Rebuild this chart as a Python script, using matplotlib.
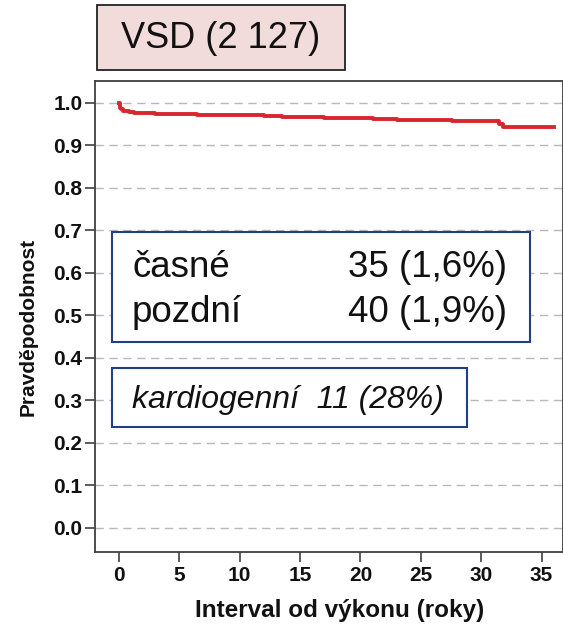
import matplotlib
matplotlib.use("Agg")
import matplotlib.pyplot as plt
from matplotlib.patches import Rectangle

# ---- data ----
times = [0, 0.05, 0.1, 0.2, 0.35, 0.5, 0.8, 1.2, 2, 3, 4, 5, 6.5, 8, 10, 12,
         13.5, 15, 17, 19, 21, 23, 25, 27.6, 29, 31.5, 31.8, 36]
surv = [1.0, 0.993, 0.988, 0.985, 0.982, 0.980, 0.978, 0.977, 0.976, 0.975,
        0.974, 0.973, 0.972, 0.972, 0.971, 0.970, 0.967, 0.966, 0.965, 0.964,
        0.963, 0.961, 0.960, 0.958, 0.957, 0.950, 0.944, 0.944]
xticks = [0, 5, 10, 15, 20, 25, 30, 35]
yticks = [0.0, 0.1, 0.2, 0.3, 0.4, 0.5, 0.6, 0.7, 0.8, 0.9, 1.0]
title_text = "VSD (2 127)"
box_labels = ["časné", "pozdní"]
box_values = ["35 (1,6%)", "40 (1,9%)"]
box2_text = "kardiogenní  11 (28%)"

plt.rcParams['font.family'] = ['Liberation Sans', 'DejaVu Sans']

W, H = 563, 624
fig = plt.figure(figsize=(W / 100, H / 100), dpi=100)

def fx(px):
    return px / W

def fy(py):
    return 1 - py / H

ax = fig.add_axes([fx(95), fy(552), fx(563) - fx(95), fy(80.5) - fy(552)])
ax.set_xlim(-1.99, 36.78)
ax.set_ylim(-0.0565, 1.0529)

ax.plot(times, surv, drawstyle='steps-post', color='#d8262f', lw=2.8,
        solid_joinstyle='round', zorder=3)

ax.set_xticks(xticks)
ax.set_yticks(yticks)
ax.set_yticklabels([f"{v:.1f}" for v in yticks])
for lab in ax.get_xticklabels() + ax.get_yticklabels():
    lab.set_fontweight('bold')
    lab.set_fontsize(15)
    lab.set_color('#111111')
ax.tick_params(axis='both', direction='out', length=7, width=1.2,
               color='#404040')
ax.tick_params(axis='y', pad=2)
ax.tick_params(axis='x', pad=3)
ax.grid(axis='y', linestyle=(0, (6, 4)), color='#b8b8b8', lw=1.0)
ax.set_axisbelow(True)
for s in ['left', 'bottom', 'top', 'right']:
    ax.spines[s].set_color('#404040')
    ax.spines[s].set_linewidth(1.3)

fig.text(fx(340), fy(611), "Interval od výkonu (roky)", ha='center',
         va='center', fontsize=17.5, fontweight='bold', color='#111111')
fig.text(fx(28), fy(327), "Pravděpodobnost", ha='center', va='center',
         rotation=90, fontsize=15, fontweight='bold', color='#111111')

# title box
fig.patches.append(Rectangle((fx(97), fy(70)), fx(345) - fx(97),
                             fy(5) - fy(70), transform=fig.transFigure,
                             facecolor='#f2dcdb', edgecolor='#222222',
                             lw=1.3, zorder=5))
fig.text(fx(221), fy(38), title_text, ha='center', va='center', fontsize=26,
         color='#111111', zorder=6)

# info boxes (drawn in the axes above the gridlines)
navy = '#21407f'
ax.add_patch(Rectangle((fx(112), fy(342)), fx(530) - fx(112),
                       fy(232) - fy(342), transform=fig.transFigure,
                       facecolor='white', edgecolor=navy, lw=1.5,
                       zorder=5, clip_on=False))
baselines = [277, 322]
for lab, val, b in zip(box_labels, box_values, baselines):
    ax.text(fx(132), fy(b), lab, transform=fig.transFigure, ha='left',
            va='baseline', fontsize=26.5, color='#111111', zorder=6)
    ax.text(fx(507), fy(b), val, transform=fig.transFigure, ha='right',
            va='baseline', fontsize=26.5, color='#111111', zorder=6)

ax.add_patch(Rectangle((fx(112), fy(427)), fx(467) - fx(112),
                       fy(368) - fy(427), transform=fig.transFigure,
                       facecolor='white', edgecolor=navy, lw=1.5,
                       zorder=5, clip_on=False))
ax.text(fx(132), fy(408), box2_text, transform=fig.transFigure, ha='left',
        va='baseline', fontsize=23, style='italic', color='#111111',
        zorder=6)

fig.savefig("out.png", dpi=100)
